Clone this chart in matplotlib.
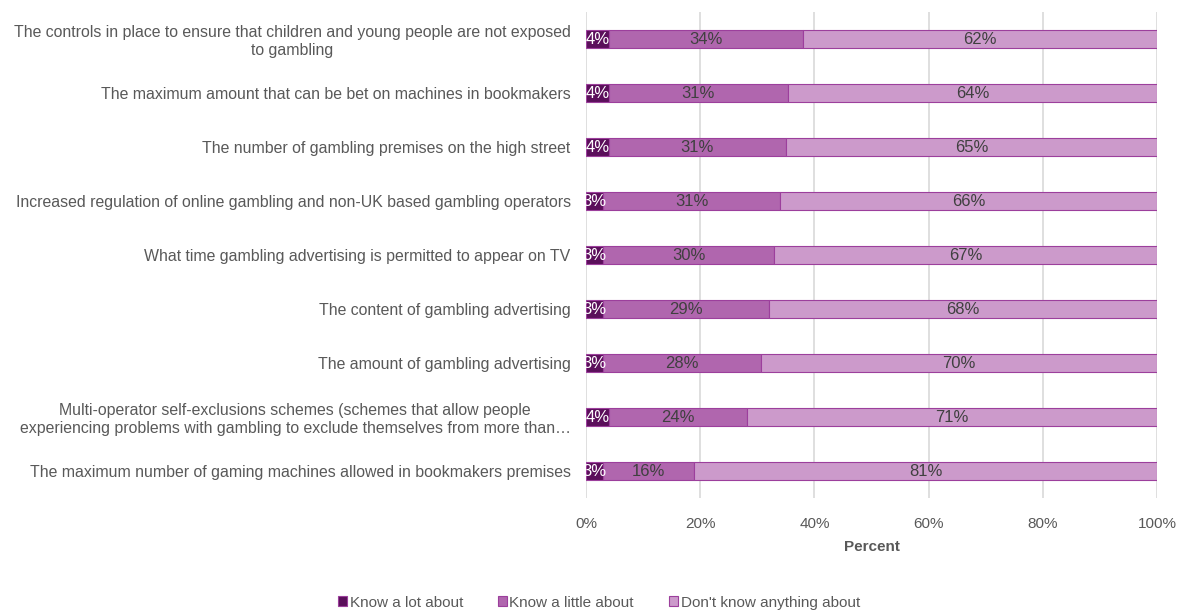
import matplotlib
matplotlib.use("Agg")
import matplotlib.pyplot as plt
from matplotlib.patches import Patch
import numpy as np

plt.rcParams['font.family'] = ['Liberation Sans', 'DejaVu Sans']

categories = [
    "The controls in place to ensure that children and young people are not exposed\nto gambling",
    "The maximum amount that can be bet on machines in bookmakers",
    "The number of gambling premises on the high street",
    "Increased regulation of online gambling and non-UK based gambling operators",
    "What time gambling advertising is permitted to appear on TV",
    "The content of gambling advertising",
    "The amount of gambling advertising",
    "Multi-operator self-exclusions schemes (schemes that allow people\nexperiencing problems with gambling to exclude themselves from more than\u2026",
    "The maximum number of gaming machines allowed in bookmakers premises",
]
know_a_lot = [4, 4, 4, 3, 3, 3, 3, 4, 3]
know_a_little = [34, 31, 31, 31, 30, 29, 28, 24, 16]
dont_know = [62, 64, 65, 66, 67, 68, 70, 71, 81]
series_names = ["Know a lot about", "Know a little about", "Don't know anything about"]
x_ticks = [0, 20, 40, 60, 80, 100]

colors = ["#5B0F5B", "#B066AE", "#CC9ACB"]
edge = "#9C3F9C"
label_colors = ["white", "#404040", "#404040"]
text_gray = "#595959"

fig = plt.figure(figsize=(11.79, 6.10), dpi=100)
ax = fig.add_axes([586 / 1179, 1 - 498 / 610, (1157 - 586) / 1179, 486 / 610])

data = np.array([know_a_lot, know_a_little, dont_know], dtype=float)
shares = data / data.sum(axis=0) * 100  # 100% stacked
y = np.arange(len(categories))
left = np.zeros(len(categories))
for i in range(3):
    ax.barh(y, shares[i], left=left, height=0.35, color=colors[i],
            edgecolor=edge, linewidth=0.8, zorder=3)
    for j in range(len(categories)):
        ax.text(left[j] + shares[i][j] / 2, y[j], f"{int(data[i][j])}%",
                ha='center', va='center', fontsize=12,
                color=label_colors[i], zorder=4)
    left += shares[i]

ax.set_ylim(len(categories) - 0.5, -0.5)
ax.set_xlim(0, 100)
ax.set_xticks(x_ticks)
ax.set_xticklabels([f"{t}%" for t in x_ticks], color=text_gray, fontsize=11)
ax.set_yticks(y)
ax.set_yticklabels(categories, color=text_gray, fontsize=11.4, multialignment='center')
ax.tick_params(axis='x', length=0, pad=14)
ax.tick_params(axis='y', length=0, pad=11)
ax.xaxis.grid(True, color="#D9D9D9", linewidth=1.2, zorder=0)
for s in ax.spines.values():
    s.set_visible(False)
ax.set_xlabel("Percent", fontsize=11, fontweight='bold', color=text_gray, labelpad=6)

handles = [Patch(facecolor=c, edgecolor=edge, linewidth=0.8) for c in colors]
fig.legend(handles, series_names, loc='lower center', bbox_to_anchor=(0.508, -0.022),
           ncol=3, frameon=False, fontsize=11, handlelength=0.6, handleheight=0.6,
           handletextpad=0.15, columnspacing=2.3, labelcolor=text_gray)

fig.savefig("out.png", dpi=100)
